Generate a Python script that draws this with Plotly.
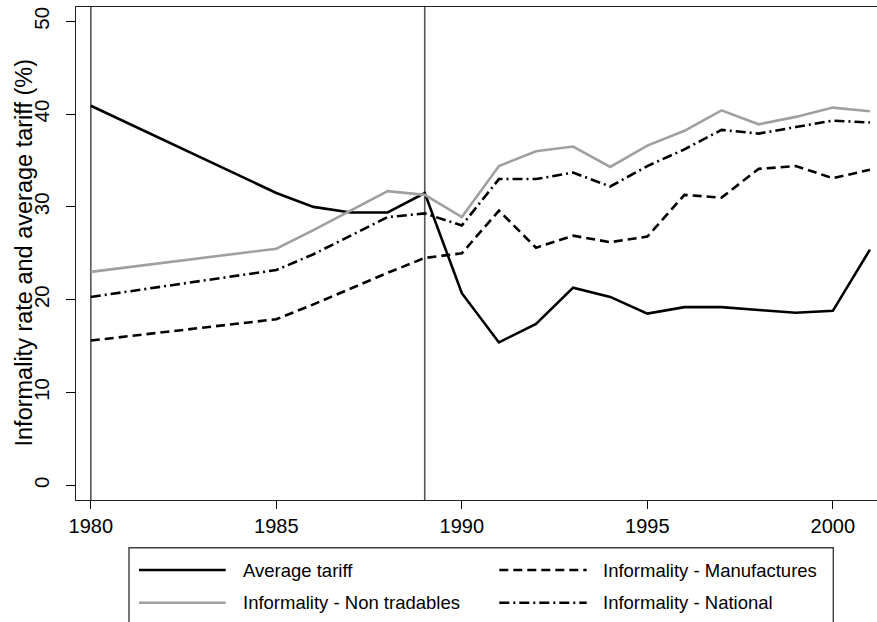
import plotly.graph_objects as go

years_tariff = [1980, 1985, 1986, 1987, 1988, 1989, 1990, 1991, 1992, 1993, 1994,
                1995, 1996, 1997, 1998, 1999, 2000, 2001]
avg_tariff = [40.9, 31.5, 30.0, 29.4, 29.4, 31.5, 20.7, 15.4, 17.4, 21.3, 20.3,
              18.5, 19.2, 19.2, 18.9, 18.6, 18.8, 25.4]
non_tradables = [23.0, 25.5, 27.5, 29.6, 31.7, 31.3, 28.9, 34.4, 36.0, 36.5, 34.3,
                 36.6, 38.2, 40.4, 38.9, 39.7, 40.7, 40.3]
national = [20.3, 23.2, 24.9, 26.9, 28.9, 29.3, 28.0, 33.0, 33.0, 33.7, 32.2,
            34.4, 36.2, 38.3, 37.9, 38.6, 39.3, 39.1]
manufactures = [15.6, 17.9, 19.5, 21.2, 22.9, 24.5, 25.0, 29.6, 25.6, 26.9, 26.2,
                26.8, 31.3, 31.0, 34.1, 34.4, 33.1, 34.0]
event_years = [1980, 1989]
x_ticks = [1980, 1985, 1990, 1995, 2000]
y_ticks = [0, 10, 20, 30, 40, 50]

series = [
    ("Average tariff", avg_tariff, "#000000", "solid"),
    ("Informality - Non tradables", non_tradables, "#a0a0a0", "solid"),
    ("Informality - Manufactures", manufactures, "#000000", "9px,5px"),
    ("Informality - National", national, "#000000", "10px,4px,2px,4px"),
]

FONT = "Liberation Sans, Arial, Helvetica, sans-serif"

fig = go.Figure()
for name, vals, col, dash in series:
    fig.add_trace(go.Scatter(x=years_tariff, y=vals, mode="lines", name=name,
                             line=dict(color=col, width=2.6, dash=dash),
                             showlegend=False))

for yr in event_years:
    fig.add_shape(type="line", xref="x", yref="paper", x0=yr, x1=yr, y0=0, y1=1,
                  line=dict(color="#555555", width=1.6), layer="below")

W, H = 877, 622
ML, MR, MT, MB = 76, 0, 7, 122
PW, PH = W - ML - MR, H - MT - MB


def px2x(px):
    return (px - ML) / PW


def py2y(py):
    return (H - MB - py) / PH


# manual legend box
fig.add_shape(type="rect", xref="paper", yref="paper",
              x0=px2x(129), x1=px2x(833.3), y0=py2y(547.7), y1=py2y(660),
              line=dict(color="#404040", width=1.4), fillcolor="rgba(0,0,0,0)")

leg_pos = [(139, 225.7, 241, 570), (139, 225.7, 241, 602.7),
           (499.3, 586.7, 601, 570), (499.3, 586.7, 601, 602.7)]
for (x0, x1, xt, yy), (name, vals, col, dash) in zip(leg_pos, series):
    fig.add_shape(type="line", xref="paper", yref="paper",
                  x0=px2x(x0), x1=px2x(x1), y0=py2y(yy), y1=py2y(yy),
                  line=dict(color=col, width=2.6, dash=dash))
    fig.add_annotation(xref="paper", yref="paper", x=px2x(xt), y=py2y(yy),
                       text=name, showarrow=False, xanchor="left", yanchor="middle",
                       font=dict(family=FONT, size=18.5, color="#000"))

# y-axis title
fig.add_annotation(xref="paper", yref="paper", x=px2x(23.5), y=py2y(253),
                   text="Informality rate and average tariff (%)", showarrow=False,
                   textangle=-90, xanchor="center", yanchor="middle",
                   font=dict(family=FONT, size=23.5, color="#000"))

fig.update_layout(
    width=W, height=H,
    margin=dict(l=ML, r=MR, t=MT, b=MB, autoexpand=False),
    paper_bgcolor="white", plot_bgcolor="white",
    font=dict(family=FONT, color="#000"),
    xaxis=dict(range=[1979.6, 1979.6 + PW / 37.1], tickvals=x_ticks,
               ticktext=[str(v) for v in x_ticks],
               showgrid=False, zeroline=False, showline=True, mirror=True,
               linecolor="#222222", linewidth=1.4, ticks="outside", ticklen=8,
               tickcolor="#000", tickwidth=1.2, tickfont=dict(size=20, family=FONT)),
    yaxis=dict(range=[-1.58, 51.54], tickvals=y_ticks,
               ticktext=[str(v) for v in y_ticks],
               showgrid=False, zeroline=False, showline=True,
               linecolor="#222222", linewidth=1.4, ticks="outside", ticklen=9,
               tickcolor="#000", tickwidth=1.2, tickangle=-90,
               ticklabelstandoff=9, tickfont=dict(size=20.5, family=FONT)),
)

fig.write_html("out.html", config={"displayModeBar": False},
               post_script="document.body.style.margin='0px';document.body.style.padding='0px';")
